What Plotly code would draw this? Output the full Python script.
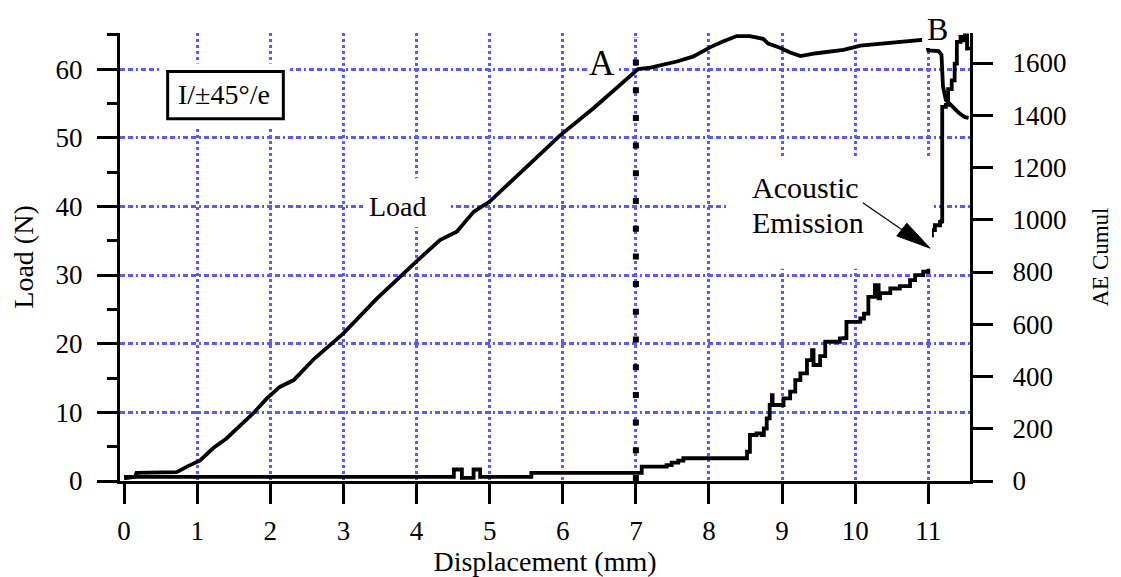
import plotly.graph_objects as go

# ---------------- data ----------------
load_disp = [0.0, 0.15, 0.17, 0.72, 0.86, 1.04, 1.22, 1.40, 1.59, 1.77, 1.95, 2.13, 2.32, 2.6, 3.0,
             3.46, 4.0, 4.32, 4.55, 4.78, 5.0, 5.32, 5.6, 5.96, 6.42, 6.76, 7.03, 7.2, 7.33, 7.56,
             7.78, 8.02, 8.19, 8.38, 8.56, 8.74, 8.81, 8.97, 9.11, 9.25, 9.47, 9.84, 10.07, 10.52,
             10.89, 10.96, 11.0, 11.14, 11.18, 11.2, 11.24, 11.3, 11.36, 11.42, 11.5, 11.55]
load_val = [0.4, 0.6, 1.2, 1.3, 2.1, 3.0, 4.8, 6.2, 8.1, 9.9, 12.0, 13.7, 14.7, 17.8, 21.5,
            26.6, 32.0, 35.1, 36.3, 39.2, 40.7, 43.9, 46.7, 50.3, 54.3, 57.5, 60.0, 60.2, 60.5, 61.1,
            61.8, 63.2, 64.0, 64.8, 64.8, 64.4, 63.7, 63.1, 62.4, 61.9, 62.3, 62.8, 63.4, 63.8,
            64.2, 64.3, 62.7, 62.6, 62.1, 57.5, 55.5, 54.8, 54.2, 53.6, 53.0, 52.9]

ae_disp = [0.0, 4.5, 4.51, 4.6, 4.62, 4.76, 4.78, 4.85, 4.87, 5.55, 5.57, 7.05, 7.08, 7.29,
           7.42, 7.49, 7.58, 7.65, 8.49, 8.52, 8.56, 8.65, 8.72, 8.75, 8.79, 8.83, 8.86, 8.87,
           8.97, 9.02, 9.11, 9.18, 9.25, 9.34, 9.41, 9.43, 9.52, 9.59, 9.79, 9.84, 9.88, 10.07,
           10.12, 10.18, 10.27, 10.32, 10.34, 10.48, 10.61, 10.75, 10.82, 10.93, 11.0, 11.05,
           11.09, 11.16, 11.18, 11.19, 11.24, 11.27, 11.32, 11.36, 11.39, 11.44, 11.48, 11.5,
           11.53, 11.56]
ae_val = [16, 16, 44, 44, 12, 12, 44, 44, 16, 16, 31, 31, 55, 55,
          61, 70, 78, 87, 87, 112, 176, 182, 176, 201, 240, 291, 329, 291,
          291, 316, 342, 386, 412, 463, 501, 444, 478, 533, 546, 547, 609, 622,
          641, 705, 750, 699, 719, 737, 746, 769, 788, 801, 940, 960,
          979, 992, 995, 1432, 1440, 1500, 1534, 1598, 1681, 1700, 1687, 1706,
          1655, 1650]

x_ticks = list(range(0, 12))
x_grid = list(range(1, 12))
load_ticks = list(range(0, 70, 10))
ae_ticks = list(range(0, 1800, 200))

X_RANGE = [-0.056, 11.57]
LOAD_RANGE = [0, 65.25]
AE_RANGE = [0, 1715]

FONT = "Liberation Serif"
GRID = "#5a5aff"

fig = go.Figure()
fig.add_trace(go.Scatter(x=load_disp, y=load_val, mode="lines", name="Load",
                         line=dict(color="black", width=3.8), xaxis="x", yaxis="y"))
fig.add_trace(go.Scatter(x=ae_disp, y=ae_val, mode="lines", name="Acoustic Emission",
                         line=dict(color="black", width=3.8, shape="hv"), xaxis="x", yaxis="y2"))
# invisible trace carrying the grid-only overlay axis
fig.add_trace(go.Scatter(x=[], y=[], xaxis="x2", yaxis="y", showlegend=False, hoverinfo="skip"))

# marker line A at 7 mm
fig.add_trace(go.Scatter(x=[7.0, 7.0], y=[0, 64.6], mode="lines", showlegend=False,
                         line=dict(color="black", width=6, dash="6px,21.7px")))

shapes = []
# white masks behind labels (hide grid / curves like in the reference)
for (x0, x1, y0, y1) in [(8.245, 11.05, 30.9, 47.2),   # Acoustic Emission
                         (3.268, 4.458, 37.0, 44.1),    # Load
                         (0.491, 2.269, 51.7, 60.8),    # legend box
                         (6.33, 6.74, 58.7, 62.5),      # A
                         (10.915, 11.365, 63.05, 70)]:  # B
    shapes.append(dict(type="rect", xref="x", yref="y", x0=x0, x1=x1, y0=y0, y1=y1,
                       fillcolor="white", line=dict(width=0), layer="above"))
# legend frame
shapes.append(dict(type="rect", xref="x", yref="y", x0=0.596, x1=2.178, y0=52.75, y1=59.65,
                   fillcolor="rgba(0,0,0,0)", line=dict(color="black", width=3), layer="above"))
# arrow for Acoustic Emission
shapes.append(dict(type="line", xref="x", yref="y", x0=10.104, y0=40.51, x1=10.64, y1=36.6,
                   line=dict(color="black", width=1.2), layer="above"))
shapes.append(dict(type="path", xref="x", yref="y",
                   path="M 10.569 35.70 L 10.706 37.55 L 11.025 33.91 Z",
                   fillcolor="black", line=dict(color="black", width=1), layer="above"))

annotations = [
    dict(x=6.538, y=60.77, yref="y", text="A", showarrow=False, font=dict(size=35)),
    dict(x=11.127, y=1.0, yref="paper", yanchor="top", yshift=24, text="B",
         showarrow=False, font=dict(size=32)),
    dict(x=3.74, y=40.0, yref="y", text="Load", showarrow=False, font=dict(size=28)),
    dict(x=8.562, y=42.7, yref="y", text="Acoustic", showarrow=False, xanchor="left",
         font=dict(size=30)),
    dict(x=8.562, y=37.6, yref="y", text="Emission", showarrow=False, xanchor="left",
         font=dict(size=30)),
    dict(x=1.37, y=56.3, yref="y", text="I/±45°/e", showarrow=False, font=dict(size=28)),
]
for a in annotations:
    a.update(xref="x")
    a["font"].update(family=FONT, color="black")

# the page adds an 8px body margin: figure is 8px smaller and margins shifted accordingly
fig.update_layout(
    width=1113, height=569,
    margin=dict(l=112, r=151, t=25, b=96),
    paper_bgcolor="white", plot_bgcolor="white",
    font=dict(family=FONT, color="black", size=27),
    showlegend=False,
    shapes=shapes,
    annotations=annotations,
    xaxis=dict(range=X_RANGE, tickvals=x_ticks, showgrid=False, zeroline=False,
               showline=True, linecolor="black", linewidth=3,
               ticks="outside", ticklen=20, tickwidth=3, tickcolor="black",
               ticklabelstandoff=4,
               title=dict(text="Displacement (mm)", font=dict(size=28), standoff=0),
               automargin=False),
    xaxis2=dict(range=X_RANGE, overlaying="x", anchor="y", tickvals=x_grid,
                showticklabels=False, ticks="", showline=False, zeroline=False,
                showgrid=True, gridcolor=GRID, gridwidth=2.5, griddash="3px,3px"),
    yaxis=dict(range=LOAD_RANGE, tickvals=load_ticks, zeroline=False,
               showgrid=True, gridcolor=GRID, gridwidth=2.5,
               griddash="5px,3px,5px,3px,2px,3px",
               showline=True, linecolor="black", linewidth=3,
               ticks="outside", ticklen=20, tickwidth=3, tickcolor="black",
               ticklabelstandoff=9,
               minor=dict(dtick=5, tick0=0, ticks="outside", ticklen=10, tickwidth=3,
                          tickcolor="black", showgrid=False),
               title=dict(text="Load (N)", font=dict(size=28), standoff=14),
               automargin=False),
    yaxis2=dict(range=AE_RANGE, tickvals=ae_ticks, overlaying="y", side="right", anchor="x",
                showgrid=False, zeroline=False,
                showline=True, linecolor="black", linewidth=3,
                ticks="outside", ticklen=20, tickwidth=3, tickcolor="black",
                ticklabelstandoff=14,
                title=dict(text="AE Cumul", font=dict(size=23), standoff=27),
                automargin=False),
)

fig.write_html("out.html")
